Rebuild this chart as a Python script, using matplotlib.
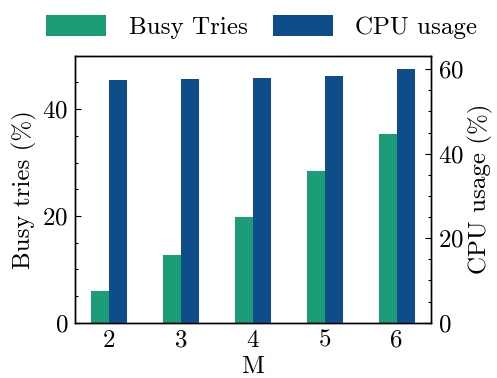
import matplotlib
matplotlib.use("Agg")
import matplotlib.pyplot as plt
import numpy as np
from matplotlib.ticker import MultipleLocator

plt.rcParams['font.family'] = ['cmr10', 'DejaVu Serif']
plt.rcParams['mathtext.fontset'] = 'cm'
plt.rcParams['axes.formatter.use_mathtext'] = True

M = [2, 3, 4, 5, 6]
busy_tries = [6.0, 12.7, 19.8, 28.5, 35.4]
cpu_usage = [57.5, 57.7, 57.9, 58.4, 60.1]

green = '#1b9e77'
blue = '#0f4d8a'
fs = 18

fig = plt.figure(figsize=(4.97, 3.78), dpi=100)
ax = fig.add_axes([0.151, 0.1463, 0.7156, 0.7063])
ax2 = ax.twinx()

x = np.array(M, dtype=float)
w = 0.25
b1 = ax.bar(x - w/2, busy_tries, width=w, color=green, label='Busy Tries')
b2 = ax2.bar(x + w/2, cpu_usage, width=w, color=blue, label='CPU usage')

ax.set_ylim(0, 50)
ax2.set_ylim(0, 63.2)
ax.set_xticks(M)
ax.set_xticklabels([str(m) for m in M])
ax.yaxis.set_major_locator(MultipleLocator(20))
ax.yaxis.set_minor_locator(MultipleLocator(5))
ax2.yaxis.set_major_locator(MultipleLocator(20))
ax2.yaxis.set_minor_locator(MultipleLocator(5))

ax.tick_params(axis='x', length=0, labelsize=fs, pad=5)
for a in (ax, ax2):
    a.tick_params(axis='y', which='both', direction='in', labelsize=fs, width=0.8)
    a.tick_params(axis='y', which='major', length=4, pad=5)
    a.tick_params(axis='y', which='minor', length=2)
    for s in a.spines.values():
        s.set_linewidth(1.0)

ax.set_xlabel('M', fontsize=fs, labelpad=3)
ax.set_ylabel('Busy tries (%)', fontsize=fs)
ax2.set_ylabel('CPU usage (%)', fontsize=fs, labelpad=3)

fig.legend([b1, b2], ['Busy Tries', 'CPU usage'], loc='upper center',
           bbox_to_anchor=(0.527, 1.02), ncol=2, frameon=False, fontsize=fs,
           handlelength=2.4, handleheight=0.9, columnspacing=1.0, handletextpad=0.9)

fig.savefig('out.png', dpi=100)
